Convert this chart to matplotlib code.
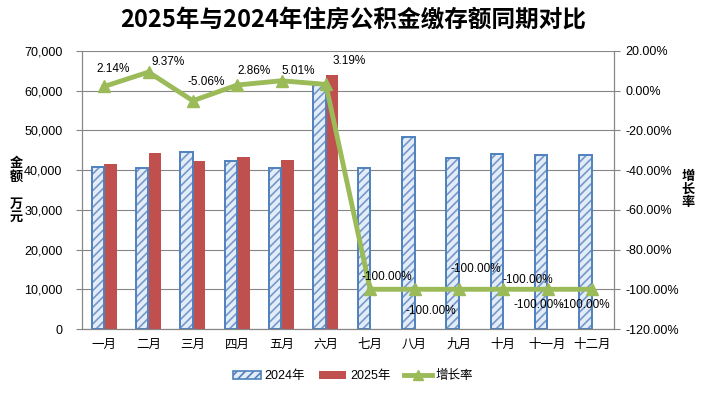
import matplotlib
matplotlib.use("Agg")
import matplotlib.pyplot as plt
import numpy as np
from matplotlib.patches import Patch
from matplotlib.lines import Line2D
from matplotlib.ticker import FuncFormatter, MultipleLocator

plt.rcParams['font.family'] = ['Liberation Sans', 'Noto Sans CJK SC', 'DejaVu Sans']
plt.rcParams['hatch.linewidth'] = 1.2

months = ['一月', '二月', '三月', '四月', '五月', '六月', '七月', '八月', '九月', '十月', '十一月', '十二月']
v2024 = [40700, 40450, 44650, 42200, 40450, 61900, 40450, 48400, 43150, 44150, 43900, 43900]
v2025 = [41570, 44240, 42390, 43410, 42480, 63870, 0, 0, 0, 0, 0, 0]
growth = [2.14, 9.37, -5.06, 2.86, 5.01, 3.19, -100, -100, -100, -100, -100, -100]
growth_labels = ['2.14%', '9.37%', '-5.06%', '2.86%', '5.01%', '3.19%',
                 '-100.00%', '-100.00%', '-100.00%', '-100.00%', '-100.00%', '-100.00%']

# label offsets in pixels (style only)
label_off = [(9, 17), (20, 10), (13, 19), (17, 14), (17, 10), (23, 23),
             (17, 12), (16, -22), (17, 20), (25, 9), (-9, -16), (-7, -16)]

W, H = 706, 393
fig = plt.figure(figsize=(W / 100, H / 100), dpi=100)
ax = fig.add_axes([82 / W, 64 / H, 532 / W, 278 / H])
ax2 = ax.twinx()

x = np.arange(len(months))
bw = 0.28
blue_edge = '#4F81BD'
blue_hatch = '#7399CC'
blue_fill = '#E3ECF7'
red = '#C0504D'
green = '#9BBB59'
grid = '#868686'

ax.bar(x - bw / 2, v2024, bw, color=blue_fill, edgecolor=blue_hatch, hatch='////', linewidth=0, zorder=2)
ax.bar(x - bw / 2, v2024, bw, fill=False, edgecolor=blue_edge, linewidth=1.4, zorder=3)
ax.bar(x + bw / 2, v2025, bw, color=red, edgecolor='none', zorder=2)

ax.set_xlim(-0.5, 11.5)
ax.set_ylim(0, 70000)
ax.yaxis.set_major_locator(MultipleLocator(10000))
ax.yaxis.set_major_formatter(FuncFormatter(lambda v, p: f'{int(v):,}'))
ax.grid(axis='y', color=grid, linewidth=0.8, zorder=0)
ax.set_axisbelow(True)
ax.set_xticks(x)
ax.set_xticklabels(months, fontsize=9)
ax.tick_params(axis='x', length=0, pad=7)
ax.tick_params(axis='y', labelsize=9, length=4, color=grid, pad=10)
for s in ['left', 'bottom', 'right', 'top']:
    ax.spines[s].set_color(grid)
    ax2.spines[s].set_color(grid)
ax.spines['top'].set_visible(False)
ax2.spines['top'].set_visible(False)

ax2.plot(x, growth, color=green, linewidth=3.5, marker='^', markersize=8,
         markerfacecolor=green, markeredgecolor=green, zorder=5)
ax2.set_ylim(-120, 20)
ax2.yaxis.set_major_locator(MultipleLocator(20))
ax2.yaxis.set_major_formatter(FuncFormatter(lambda v, p: f'{v:.2f}%'))
ax2.tick_params(axis='y', labelsize=9, length=4, color=grid, pad=4)

for xi, gi, lab, (dx, dy) in zip(x, growth, growth_labels, label_off):
    ax2.annotate(lab, (xi, gi), xytext=(dx * 0.72, dy * 0.72), textcoords='offset points',
                 ha='center', va='center', fontsize=8.5, color='#000000', zorder=6)

fig.text(0.5, 1 - 20 / H, '2025年与2024年住房公积金缴存额同期对比', ha='center', va='center',
         fontsize=17, fontweight='bold', family=['Noto Sans CJK SC', 'DejaVu Sans'])
fig.text(16 / W, 1 - 190 / H, '金\n额\n\n万\n元', ha='center', va='center', fontsize=9.5,
         fontweight='bold', linespacing=0.95, family=['Noto Sans CJK SC'])
fig.text(688 / W, 1 - 189 / H, '增\n长\n率', ha='center', va='center', fontsize=9.5,
         fontweight='bold', linespacing=0.95, family=['Noto Sans CJK SC'])

handles = [
    Patch(facecolor=blue_fill, edgecolor=blue_edge, hatch='////', linewidth=1.2),
    Patch(facecolor=red, edgecolor='none'),
    Line2D([0], [0], color=green, linewidth=3.5, marker='^', markersize=7),
]
fig.legend(handles, ['2024年', '2025年', '增长率'], loc='center', bbox_to_anchor=(0.5, 1 - 376 / H),
           ncol=3, frameon=False, fontsize=9, handlelength=2.2, handleheight=0.6,
           handletextpad=0.3, columnspacing=1.1)

fig.savefig('out.png', dpi=100)
